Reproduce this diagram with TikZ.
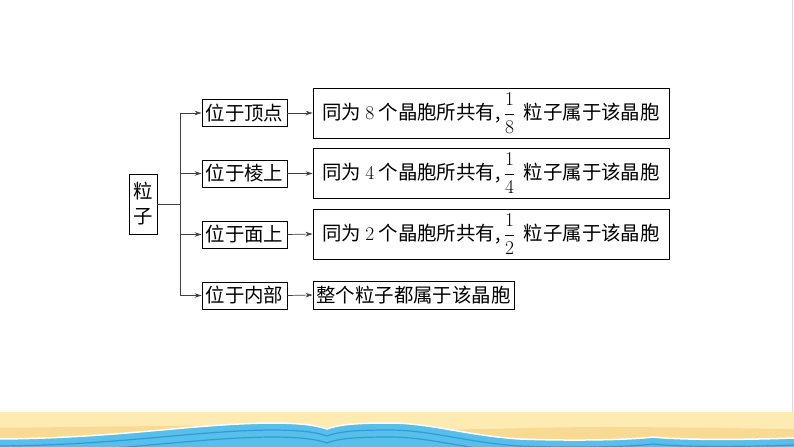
\documentclass[tikz,border=0pt]{standalone}
\usepackage{amsmath}
\usepackage{fontspec}
\newfontfamily\cjk{Noto Sans CJK SC}
\usetikzlibrary{arrows.meta}
\definecolor{sandA}{HTML}{FDEBB2}
\definecolor{sandB}{HTML}{F9DA92}
\definecolor{seaA}{HTML}{58BEEA}
\definecolor{seaB}{HTML}{2E9DD8}
\newcommand\seawave{(0,439) .. controls (120,438) and (190,424) .. (270,423) .. controls (300,423) and (315,425) .. (327,429) .. controls (340,424) and (360,423) .. (390,423) .. controls (430,423) and (470,436) .. (520,439) .. controls (570,441) and (630,440) .. (653,437) .. controls (680,440) and (740,440) .. (794,438)}
\newcommand\digit[1]{{\rmfamily #1}}
\newcommand\share[1]{$\dfrac{\text{\rmfamily 1}}{\text{\rmfamily #1}}$}
\begin{document}
\begin{tikzpicture}[x=1bp,y=-1bp,
        box/.style={draw,line width=0.9bp,inner sep=0pt,font=\cjk\fontsize{19.5}{25}\selectfont},
        link/.style={line width=0.7bp,draw=black!75},
        arr/.style={link,-{Stealth[length=7bp,width=4.5bp]}}]
        \useasboundingbox (0,0) rectangle (794,447);
        \fill[white] (0,0) rectangle (794,447);
        \draw[black!15,line width=1bp] (792.5,0) -- (792.5,412);

        % beach at the bottom
        \fill[sandA] (0,412) rectangle (794,447);
        \fill[sandB] plot[smooth] coordinates {(0,428) (200,426) (400,430) (600,427) (794,429)} -- (794,447) -- (0,447) -- cycle;
        \begin{scope}
            \clip \seawave -- (794,448) -- (0,448) -- cycle;
            \fill[seaA] (0,410) rectangle (794,448);
            \draw[seaB,line width=1.2bp,yshift=-7bp] \seawave;
            \draw[seaB,line width=1.2bp,yshift=-14bp] \seawave;
        \end{scope}
        \draw[white,line width=1.5bp] \seawave;

        % left part
        \node[box,align=center,minimum width=28bp,minimum height=60bp] (lizi) at (143,204) {粒\\子};
        \coordinate (fork) at (180,204);

        \node[box,minimum width=85bp,minimum height=27bp] (wei1) at (244.5,113) {位于顶点};
        \node[box,minimum width=85bp,minimum height=27bp] (wei2) at (244.5,173.5) {位于棱上};
        \node[box,minimum width=85bp,minimum height=27bp] (wei3) at (244.5,234.5) {位于面上};
        \node[box,minimum width=85bp,minimum height=27bp] (wei4) at (244.5,295.5) {位于内部};

        % right part
        \node[box,minimum width=356bp,minimum height=50bp] (gong1) at (491,113) {同为 \digit{8} 个晶胞所共有,\,\share{8}\ \ 粒子属于该晶胞};
        \node[box,minimum width=356bp,minimum height=50bp] (gong2) at (491,173.5) {同为 \digit{4} 个晶胞所共有,\,\share{4}\ \ 粒子属于该晶胞};
        \node[box,minimum width=356bp,minimum height=50bp] (gong3) at (491,234) {同为 \digit{2} 个晶胞所共有,\,\share{2}\ \ 粒子属于该晶胞};
        \node[box,minimum width=201bp,minimum height=28bp] (gong4) at (413.5,295) {整个粒子都属于该晶胞};

        \draw[link] (lizi.east) -- (fork);
        \draw[link] (fork |- wei1.west) -- (fork |- wei4.west);
        \foreach \i in {1,...,4} {
            \draw[arr] (fork |- wei\i.west) -- (wei\i.west);
            \draw[arr] (wei\i.east) -- (gong\i.west);
        }
    \end{tikzpicture}
\end{document}
